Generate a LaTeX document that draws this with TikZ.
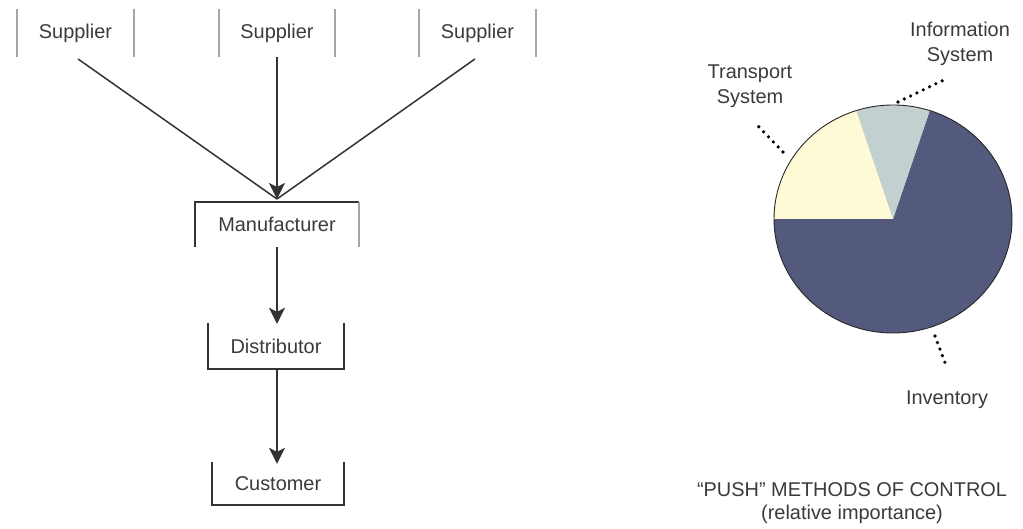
\documentclass[tikz,border=0pt]{standalone}
\usepackage{fontspec}
\setmainfont{Liberation Sans}
\usetikzlibrary{arrows.meta}
\definecolor{invcol}{HTML}{545A7E}
\definecolor{trcol}{HTML}{FFFAD6}
\definecolor{infcol}{HTML}{C2D0CF}
\definecolor{txt}{HTML}{3A3A3A}
\tikzset{
  box/.style={inner sep=0pt, text=txt, font=\fontsize{20}{24}\selectfont},
  bar/.style={draw=gray!70, line width=1.8bp},
  barD/.style={draw=gray!40!black, line width=1.6bp},
  flow/.style={draw=gray!40!black, line width=1.8bp},
  tip/.style={-{Stealth[length=16bp,width=16bp,inset=4bp]}},
  lab/.style={align=center, text=txt, font=\fontsize{20}{25}\selectfont, inner sep=0pt},
  leader/.style={draw=black, line width=3.6bp, dash pattern=on 0bp off 7bp, line cap=round}
}
\begin{document}
\begin{tikzpicture}[x=1bp,y=-1bp]
\useasboundingbox (0,0) rectangle (1023,529);
% suppliers
\node[box, minimum width=117bp, minimum height=48bp] (s1) at (75.5,33) {Supplier};
\node[box, minimum width=116bp, minimum height=48bp] (s2) at (277,33) {Supplier};
\node[box, minimum width=117bp, minimum height=48bp] (s3) at (477.5,33) {Supplier};
\foreach \s in {s1,s2,s3}{
  \draw[bar] (\s.north west) -- (\s.south west);
  \draw[bar] (\s.north east) -- (\s.south east);
}
% chain
\node[box, minimum width=164bp, minimum height=45bp] (m) at (277,224.5) {Manufacturer};
\draw[barD] (m.south west) -- (m.north west) -- (m.north east);
\draw[bar] (m.north east) -- (m.south east);
\node[box, minimum width=136bp, minimum height=46bp] (d) at (276,346) {Distributor};
\draw[barD] (d.north west) -- (d.south west) -- (d.south east) -- (d.north east);
\node[box, minimum width=132bp, minimum height=43bp] (c) at (278,483.5) {Customer};
\draw[barD] (c.north west) -- (c.south west) -- (c.south east) -- (c.north east);
% connectors
\coordinate (mt) at (277,199);
\draw[flow, line width=1.5bp, shorten <=3bp] (s1.south) -- (mt);
\draw[flow, line width=1.5bp, shorten <=3bp] (s3.south) -- (mt);
\draw[flow, tip] (s2.south) -- (mt);
\draw[flow, tip] (m.south) -- ([yshift=-1bp]d.north -| m.south);
\draw[flow, tip] (d.south -| m.south) -- ([yshift=-2bp]c.north -| m.south);
% pie
\begin{scope}[shift={(893,219)}, yscale=-1]
  \fill[invcol] (0,0) -- (72:119 and 114) arc[start angle=72, end angle=-180, x radius=119, y radius=114] -- cycle;
  \fill[trcol] (0,0) -- (180:119 and 114) arc[start angle=180, end angle=108, x radius=119, y radius=114] -- cycle;
  \fill[infcol] (0,0) -- (108:119 and 114) arc[start angle=108, end angle=72, x radius=119, y radius=114] -- cycle;
  \draw[gray!30!black, line width=0.9bp] (0,0) ellipse[x radius=119, y radius=114];
\end{scope}
% labels
\node[lab] (tr) at (750,86) {Transport\\System};
\node[lab] (inf) at (960,44) {Information\\System};
\node[lab] (inv) at (947,400) {Inventory};
\node[lab, font=\fontsize{20}{23}\selectfont] (ttl) at (852,503) {“PUSH” METHODS OF CONTROL\\(relative importance)};
% leaders
\coordinate (trA) at (783,152);
\coordinate (trB) at (758,126);
\coordinate (infA) at (898,102);
\coordinate (infB) at (948,78);
\coordinate (invA) at (935,336);
\coordinate (invB) at (947,368);
\draw[leader] (trA) -- (trB);
\draw[leader] (infA) -- (infB);
\draw[leader] (invA) -- (invB);
\end{tikzpicture}
\end{document}
